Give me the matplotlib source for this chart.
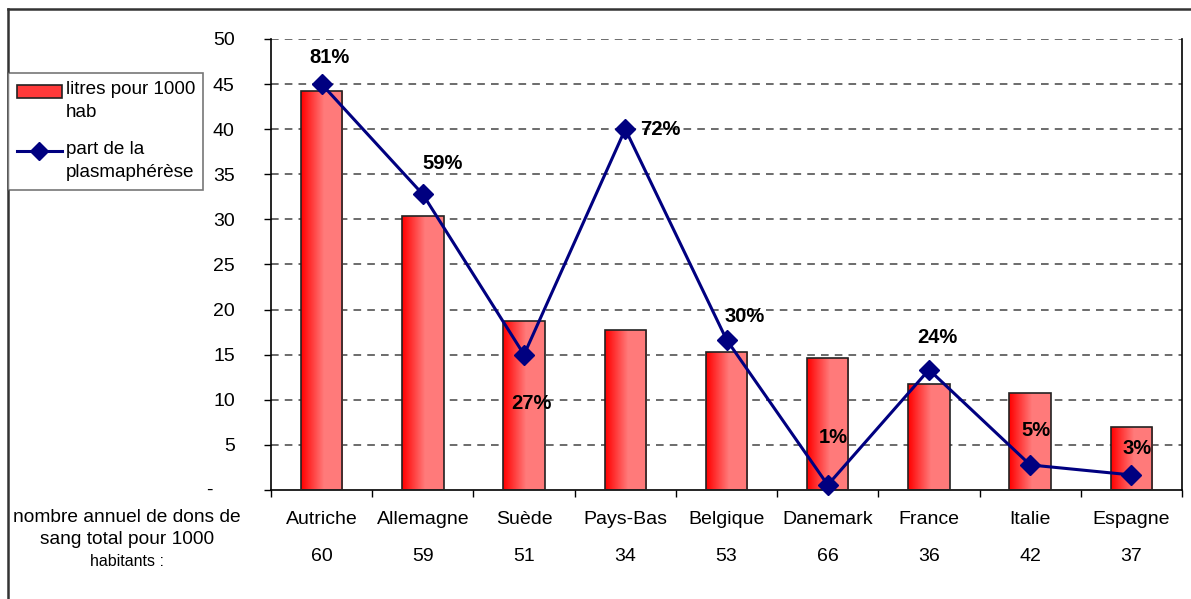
import numpy as np
import matplotlib
matplotlib.use("Agg")
import matplotlib.pyplot as plt
from matplotlib.lines import Line2D
from matplotlib.patches import Patch

plt.rcParams['font.family'] = ['Liberation Sans', 'DejaVu Sans']

# donnees
pays = ['Autriche', 'Allemagne', 'Suède', 'Pays-Bas', 'Belgique',
        'Danemark', 'France', 'Italie', 'Espagne']
litres = [44.2, 30.4, 18.7, 17.7, 15.3, 14.6, 11.75, 10.75, 7.0]
part_plasma = [81, 59, 27, 72, 30, 1, 24, 5, 3]
dons_total = [60, 59, 51, 34, 53, 66, 36, 42, 37]

# decalage des etiquettes % (points)
offsets = [(6, 19), (14, 22), (5, -35), (25, 0), (13, 17),
           (4, 34), (6, 23), (4, 25), (4, 19)]

fig = plt.figure(figsize=(11.91, 5.99), dpi=100)
ax = fig.add_axes([0.2275, 0.182, 0.765, 0.753])
x = np.arange(len(pays))

# grille pointillee
for yv in range(5, 51, 5):
    ax.axhline(yv, color='#444444', lw=1.1, ls=(0, (5, 4)), zorder=0)

# barres avec degrade rouge
grad = np.linspace(0, 1, 100)
t = np.clip(grad / 0.55, 0, 1)
img = np.zeros((1, 100, 3))
img[0, :, 0] = 1.0
img[0, :, 1] = 0.48 * t
img[0, :, 2] = 0.48 * t
bars = ax.bar(x, litres, width=0.41, facecolor='none', edgecolor='#222222',
              linewidth=1.2, zorder=3)
for b in bars:
    im = ax.imshow(img, extent=[b.get_x(), b.get_x() + b.get_width(), 0, b.get_height()],
                   aspect='auto', zorder=2, interpolation='bilinear')
    im.set_clip_path(b)
ax.set_xlim(-0.5, len(pays) - 0.5)
ax.set_ylim(0, 50)

# courbe sur axe secondaire (0 - 90 %)
ax2 = ax.twinx()
ax2.set_ylim(0, 90)
ax2.axis('off')
ax2.plot(x, part_plasma, color='#000080', lw=2.2, marker='D', markersize=10,
         zorder=5, clip_on=False)
for xi, p, off in zip(x, part_plasma, offsets):
    ax2.annotate(f'{p}%', (xi, p), xytext=off, textcoords='offset points',
                 ha='center', va='center', fontsize=14.5, fontweight='bold')

# axes
ax.spines['top'].set_visible(False)
ax.spines['left'].set_linewidth(1.2)
ax.spines['right'].set_linewidth(1.2)
ax.spines['bottom'].set_linewidth(1.2)
ax.set_yticks(range(0, 51, 5))
ax.set_yticklabels([''] + [str(v) for v in range(5, 51, 5)], fontsize=14)
ax.tick_params(axis='y', direction='out', length=5, pad=21, width=1)
ax.annotate('-', (0, 0), xycoords=('axes fraction', 'data'), xytext=(-44, 0),
            textcoords='offset points', ha='center', va='center', fontsize=14)

ax.set_xticks(np.arange(-0.5, len(pays), 1))
ax.set_xticklabels([])
ax.tick_params(axis='x', which='major', direction='out', length=5, width=1)
ax.set_xticks(x, minor=True)
ax.set_xticklabels(pays, minor=True, fontsize=14)
ax.tick_params(axis='x', which='minor', length=0, pad=15)

for xi, d in zip(x, dons_total):
    ax.annotate(str(d), (xi, 0), xycoords=('data', 'data'), xytext=(0, -48),
                textcoords='offset points', ha='center', va='center', fontsize=14)

fig.text(127 / 1191, 1 - 518 / 599, 'nombre annuel de dons de', ha='center',
         va='center', fontsize=13.8)
fig.text(127 / 1191, 1 - 540 / 599, 'sang total pour 1000', ha='center',
         va='center', fontsize=13.8)
fig.text(127 / 1191, 1 - 561 / 599, 'habitants :', ha='center',
         va='center', fontsize=11.5)

# cadre exterieur
fig.add_artist(Line2D([8 / 1191, 1.0], [1 - 9 / 599, 1 - 9 / 599],
                      color='#333333', lw=1.8, transform=fig.transFigure))
fig.add_artist(Line2D([8 / 1191, 8 / 1191], [0.0, 1 - 9 / 599],
                      color='#333333', lw=1.8, transform=fig.transFigure))

# legende
handles = [Patch(facecolor='#ff3a3a', edgecolor='#222222', lw=1.2),
           Line2D([], [], color='#000080', lw=2.2, marker='D', markersize=9)]
leg = fig.legend(handles, ['litres pour 1000\nhab', 'part de la\nplasmaphérèse'],
                 loc='upper left', bbox_to_anchor=(8 / 1191, 1 - 73 / 599),
                 fontsize=13.6, frameon=True, fancybox=False, borderpad=0.45,
                 handlelength=2.4, handletextpad=0.2, labelspacing=1.05,
                 borderaxespad=0)
for txt in leg.get_texts():
    txt.set_linespacing(1.45)
leg.get_frame().set_edgecolor('#555555')
leg.get_frame().set_linewidth(1.2)

# symboles alignes sur la premiere ligne du libelle
shift = 7.0
h_patch, h_line = leg.legend_handles
h_patch.set_y(h_patch.get_y() + shift)
h_line.set_ydata(np.asarray(h_line.get_ydata()) + shift)

fig.savefig('out.png', dpi=100)
